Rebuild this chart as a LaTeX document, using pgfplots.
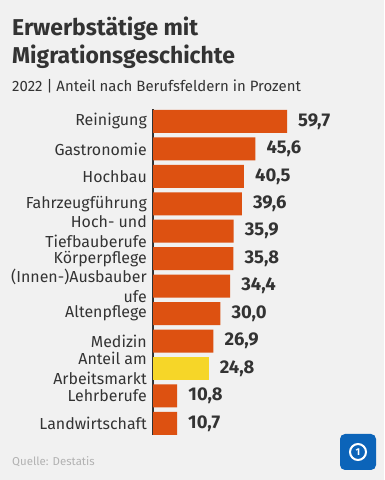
\documentclass[border=0pt]{standalone}
\usepackage{pgfplots}
\pgfplotsset{compat=1.18}
\usepackage{fontspec}
\setmainfont{Fira Sans}
\definecolor{bg}{RGB}{241,241,241}
\definecolor{txt}{RGB}{51,51,51}
\definecolor{barc}{RGB}{221,81,17}
\definecolor{hl}{RGB}{246,214,40}
\definecolor{src}{RGB}{178,178,178}
\definecolor{logo}{RGB}{12,100,185}
\begin{document}
\begin{tikzpicture}[x=1bp,y=1bp]
\useasboundingbox (0,0) rectangle (384,480);
\fill[bg] (0,0) rectangle (384,480);
\node[anchor=base west, inner sep=0, text=txt, font=\fontsize{23}{28}\selectfont\bfseries] at (12,444) {Erwerbstätige mit};
\node[anchor=base west, inner sep=0, text=txt, font=\fontsize{23}{28}\selectfont\bfseries] at (12,416) {Migrationsgeschichte};
\node[anchor=base west, inner sep=0, text=txt, font=\fontsize{15}{18}\selectfont] at (12,388) {2022 | Anteil nach Berufsfeldern in Prozent};
\begin{axis}[
  xbar, bar width=23bp, bar shift=0pt,
  scale only axis, width=224.5bp, height=325.8bp,
  at={(153bp,45.1bp)}, anchor=south west,
  xmin=0, xmax=100, ymin=-0.45, ymax=11.42, y dir=reverse,
  axis x line=none, axis y line*=left,
  y axis line style={txt, line width=1.2bp, -},
  ytick={0,...,11}, major tick length=0,
  yticklabels={Reinigung, Gastronomie, Hochbau, Fahrzeugführung, {Hoch- und\\Tiefbauberufe}, Körperpflege, {(Innen-)Ausbauber\\ufe}, Altenpflege, Medizin, {Anteil am\\Arbeitsmarkt}, Lehrberufe, Landwirtschaft},
  yticklabel style={align=right, inner sep=0pt, xshift=-6bp, text=txt, font=\fontsize{16}{20}\selectfont},
  clip=false,
  nodes near coords,
  nodes near coords style={anchor=west, inner sep=0pt, xshift=11bp, text=txt, font=\fontsize{18.5}{20}\selectfont\bfseries},
  /pgf/number format/.cd, fixed, fixed zerofill, precision=1, use comma, assume math mode=true,
]
\addplot[fill=barc, draw=none, bar shift=0pt] coordinates {(59.7,0) (45.6,1) (40.5,2) (39.6,3) (35.9,4) (35.8,5) (34.4,6) (30.0,7) (26.9,8) (10.8,10) (10.7,11)};
\addplot[fill=hl, draw=none, bar shift=0pt] coordinates {(24.8,9)};
\end{axis}
\node[anchor=base west, inner sep=0, text=src, font=\fontsize{11.5}{14}\selectfont] at (12,14) {Quelle: Destatis};
\fill[logo, rounded corners=5bp] (340,10) rectangle (376,46);
\draw[white, line width=2bp] (358,28) circle (8);
\node[white, font=\bfseries\fontsize{10}{10}\selectfont] at (358,28) {1};
\end{tikzpicture}
\end{document}
